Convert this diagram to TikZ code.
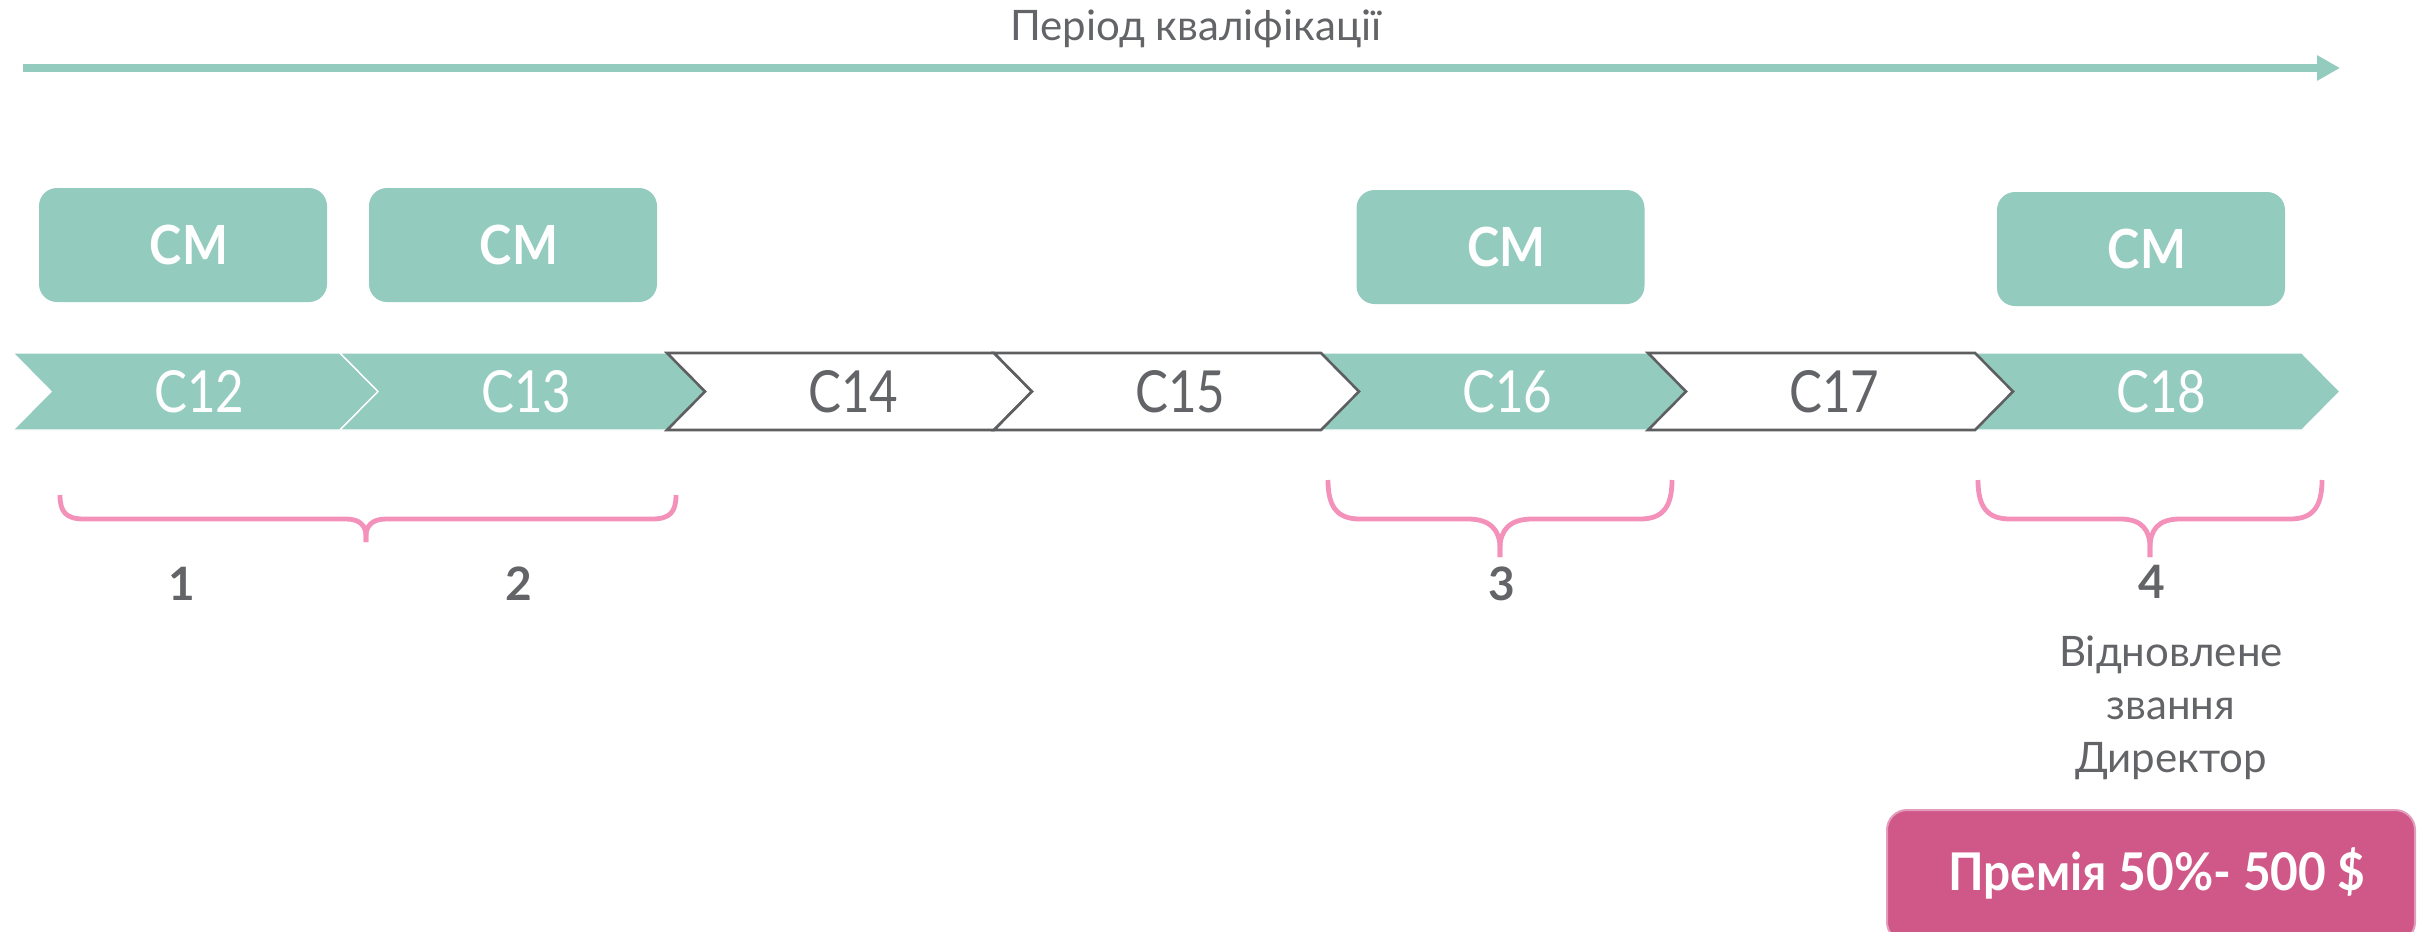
\documentclass[tikz,border=0pt]{standalone}
\usepackage{fontspec}
\setmainfont{Lato}
\newfontfamily\lblfont[FakeStretch=0.85]{Lato}
\newfontfamily\cmfont[FakeStretch=0.9]{Lato}
\newfontfamily\premfont[FakeStretch=0.92]{Lato}
\usetikzlibrary{arrows.meta}
\definecolor{teal1}{HTML}{94CBBF}
\definecolor{gtxt}{HTML}{636467}
\definecolor{gline}{HTML}{5E5F61}
\definecolor{pinkb}{HTML}{F391BA}
\definecolor{premfill}{HTML}{D05888}
\definecolor{premedge}{HTML}{E39CBB}
\begin{document}
\begin{tikzpicture}[x=0.5pt,y=-0.5pt,
  cmbox/.style={fill=teal1, rounded corners=9pt, minimum width=144pt, minimum height=57pt, inner sep=0pt, text=white, font=\cmfont\bfseries\fontsize{27}{30}\selectfont},
  tealchev/.style={fill=teal1, draw=white, line width=0.7pt, line join=miter},
  whitechev/.style={fill=white, draw=gline, line width=1.3pt, line join=miter},
  clbl/.style={font=\lblfont\fontsize{29}{32}\selectfont, inner sep=0pt},
  bracestyle/.style={draw=pinkb, line width=2.4pt, line cap=butt},
  numlbl/.style={text=gtxt, font=\bfseries\fontsize{23}{26}\selectfont, anchor=base, inner sep=0pt},
  plain/.style={text=gtxt, font=\fontsize{21}{24}\selectfont, anchor=base, inner sep=0pt}]
\useasboundingbox (0,0) rectangle (2433,932);
\clip (0,0) rectangle (2433,932);
\fill[white] (0,0) rectangle (2433,932);

% title and arrow
\node[plain] (title) at (1196,40) {Період кваліфікації};
\coordinate (aS) at (23,68);
\coordinate (aE) at (2340,68);
\draw[teal1, line width=4pt, -{Triangle[length=11.5pt,width=12pt]}] (aS) -- (aE);

% CM boxes
\node[cmbox] (cm1) at (183,245) {\hspace*{6pt}СМ};
\node[cmbox] (cm2) at (513,245) {\hspace*{6pt}СМ};
\node[cmbox] (cm3) at (1500.5,247) {\hspace*{6pt}СМ};
\node[cmbox] (cm4) at (2141,249) {\hspace*{6pt}СМ};

% chevrons
\foreach \i/\lab in {0/С12,1/С13,4/С16,6/С18}{
  \pgfmathsetmacro\xa{13+327*\i}
  \pgfmathsetmacro\xb{\xa+327}
  \draw[tealchev] (\xa,353) -- (\xb,353) -- (\xb+38,391.5) -- (\xb,430) -- (\xa,430) -- (\xa+38,391.5) -- cycle;
  \node[clbl, text=white] (s\i) at (\xa/2+\xb/2+23,391.5) {\lab};
}
\foreach \i/\lab in {2/С14,3/С15,5/С17}{
  \pgfmathsetmacro\xa{13+327*\i}
  \pgfmathsetmacro\xb{\xa+327}
  \draw[whitechev] (\xa,353) -- (\xb,353) -- (\xb+38,391.5) -- (\xb,430) -- (\xa,430) -- (\xa+38,391.5) -- cycle;
  \node[clbl, text=gtxt] (s\i) at (\xa/2+\xb/2+23,391.5) {\lab};
}

% braces
\draw[bracestyle] (60,495) .. controls (60,512) and (66,519) .. (84,519) -- (346,519)
  .. controls (360,519) and (366,526) .. (366,536) -- (366,542);
\draw[bracestyle] (676,495) .. controls (676,512) and (670,519) .. (652,519) -- (386,519)
  .. controls (372,519) and (366,526) .. (366,536) -- (366,542);

\draw[bracestyle] (1328,480) .. controls (1328,508) and (1338,519) .. (1360,519) -- (1468,519)
  .. controls (1490,519) and (1500,530) .. (1500,548) -- (1500,557);
\draw[bracestyle] (1672,480) .. controls (1672,508) and (1662,519) .. (1640,519) -- (1532,519)
  .. controls (1510,519) and (1500,530) .. (1500,548) -- (1500,557);

\draw[bracestyle] (1978,480) .. controls (1978,508) and (1988,519) .. (2010,519) -- (2120,519)
  .. controls (2142,519) and (2150,530) .. (2150,548) -- (2150,557);
\draw[bracestyle] (2322,480) .. controls (2322,508) and (2312,519) .. (2290,519) -- (2180,519)
  .. controls (2158,519) and (2150,530) .. (2150,548) -- (2150,557);

% numbers
\node[numlbl] (n1) at (182,600) {1};
\node[numlbl] (n2) at (519,600) {2};
\node[numlbl] (n3) at (1502,600) {3};
\node[numlbl] (n4) at (2152,598) {4};

% restored rank text
\node[plain] (t1) at (2171,666) {Відновлене};
\node[plain] (t2) at (2171,719) {звання};
\node[plain] (t3) at (2171,772) {Директор};

% premium
\node[draw=premedge, fill=premfill, line width=1pt, rounded corners=10pt, minimum width=264pt, minimum height=66pt, inner sep=0pt] (prem) at (2151,876) {};
\node[anchor=base, inner sep=0pt, text=white, font=\premfont\bfseries\fontsize{26}{30}\selectfont] (premtxt) at (2157,890) {Премія 50\%- 500 \$};
\end{tikzpicture}
\end{document}
